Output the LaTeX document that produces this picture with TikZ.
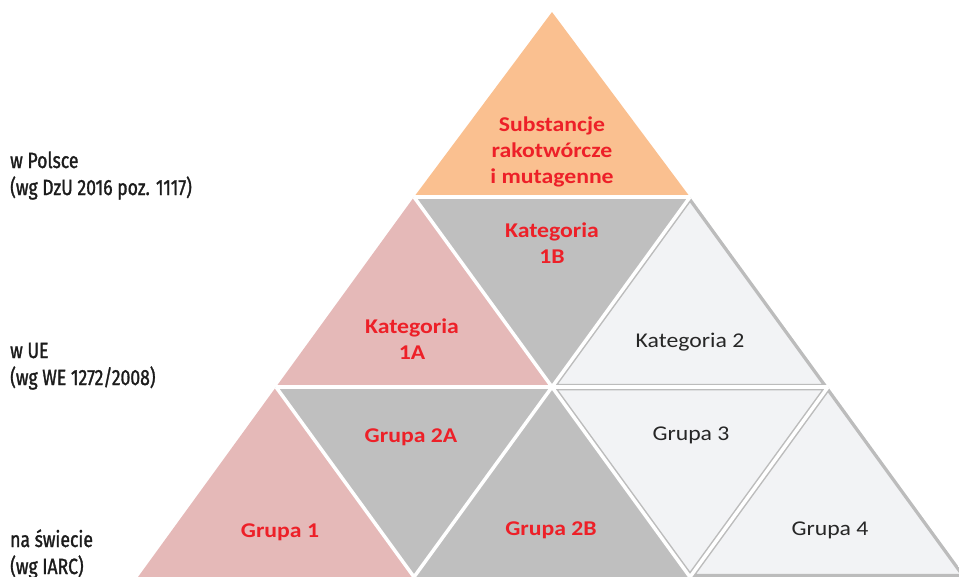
\documentclass[tikz,border=0pt]{standalone}
\usepackage{fontspec}
\setmainfont{Carlito}
\newfontfamily\trifont[FakeStretch=1.13]{Carlito}
\newfontfamily\sidefont[FakeStretch=0.8,FakeBold=1.3]{Fira Sans}
\definecolor{orangeF}{RGB}{250,192,144}
\definecolor{pinkF}{RGB}{229,185,184}
\definecolor{grayF}{RGB}{191,191,191}
\definecolor{lightF}{RGB}{242,243,245}
\definecolor{edgeG}{RGB}{188,188,188}
\definecolor{redT}{RGB}{237,32,40}
\definecolor{darkT}{RGB}{38,38,38}
\definecolor{sideT}{RGB}{28,28,28}
\tikzset{
  redlbl/.style={text=redT, font=\trifont\bfseries\fontsize{21}{26}\selectfont, align=center, inner sep=0pt},
  darklbl/.style={text=darkT, font=\trifont\fontsize{21}{26}\selectfont, inner sep=0pt},
  sidelbl/.style={text=sideT, font=\sidefont\fontsize{22}{28}\selectfont, inner sep=0pt, anchor=base west},
  gapline/.style={draw=white, line width=3.5pt},
  lightedge/.style={fill=lightF, draw=edgeG, line width=6.5pt, line join=miter}
}
\begin{document}
\begin{tikzpicture}[x=1pt,y=-1pt]
\useasboundingbox (0,0) rectangle (959,576);
\clip (0,0) rectangle (959,576);
% lattice
\coordinate (p00) at (552,12);
\coordinate (p10) at (414,197);
\coordinate (p11) at (690,197);
\coordinate (p20) at (276,387);
\coordinate (p21) at (552,387);
\coordinate (p22) at (828,387);
\coordinate (p30) at (138,577);
\coordinate (p31) at (414,577);
\coordinate (p32) at (690,577);
\coordinate (p33) at (966,577);
% filled triangles
\fill[orangeF] (p00) -- (p10) -- (p11) -- cycle;
\fill[pinkF] (p10) -- (p20) -- (p21) -- cycle;
\fill[grayF] (p10) -- (p11) -- (p21) -- cycle;
\fill[pinkF] (p20) -- (p30) -- (p31) -- cycle;
\fill[grayF] (p20) -- (p21) -- (p31) -- cycle;
\fill[grayF] (p21) -- (p31) -- (p32) -- cycle;
% light triangles with inner grey outline
\begin{scope}
  \clip (p11) -- (p21) -- (p22) -- cycle;
  \filldraw[lightedge] (p11) -- (p21) -- (p22) -- cycle;
\end{scope}
\begin{scope}
  \clip (p21) -- (p22) -- (p32) -- cycle;
  \filldraw[lightedge] (p21) -- (p22) -- (p32) -- cycle;
\end{scope}
\begin{scope}
  \clip (p22) -- (p32) -- (p33) -- cycle;
  \filldraw[lightedge] (p22) -- (p32) -- (p33) -- cycle;
\end{scope}
% white gaps
\draw[gapline] (p10) -- (p11);
\draw[gapline] (p20) -- (p22);
\draw[gapline] (p11) -- (p21) -- (p31);
\draw[gapline] (p22) -- (p32);
\draw[gapline] (p10) -- (p21) -- (p32);
\draw[gapline] (p20) -- (p31);
% labels
\node[redlbl] (subst) at (552,152) {Substancje\\rakotwórcze\\i mutagenne};
\node[redlbl] (k1b) at (552,243) {Kategoria\\1B};
\node[redlbl] (k1a) at (412,339.5) {Kategoria\\1A};
\node[darklbl, anchor=base] (k2) at (690,347) {Kategoria 2};
\node[redlbl, anchor=base] (g2a) at (411,442) {Grupa 2A};
\node[darklbl, anchor=base] (g3) at (691,440) {Grupa 3};
\node[redlbl, anchor=base] (g1) at (280,537) {Grupa 1};
\node[redlbl, anchor=base] (g2b) at (551,535) {Grupa 2B};
\node[darklbl, anchor=base] (g4) at (830,535) {Grupa 4};
% side labels
\node[sidelbl] (pl1) at (10,168) {w Polsce};
\node[sidelbl] (pl2) at (10,195) {(wg DzU 2016 poz. 1117)};
\node[sidelbl] (ue1) at (10,358) {w UE};
\node[sidelbl] (ue2) at (10,385) {(wg WE 1272/2008)};
\node[sidelbl] (sw1) at (10,547) {na świecie};
\node[sidelbl] (sw2) at (10,574) {(wg IARC)};
\end{tikzpicture}
\end{document}
